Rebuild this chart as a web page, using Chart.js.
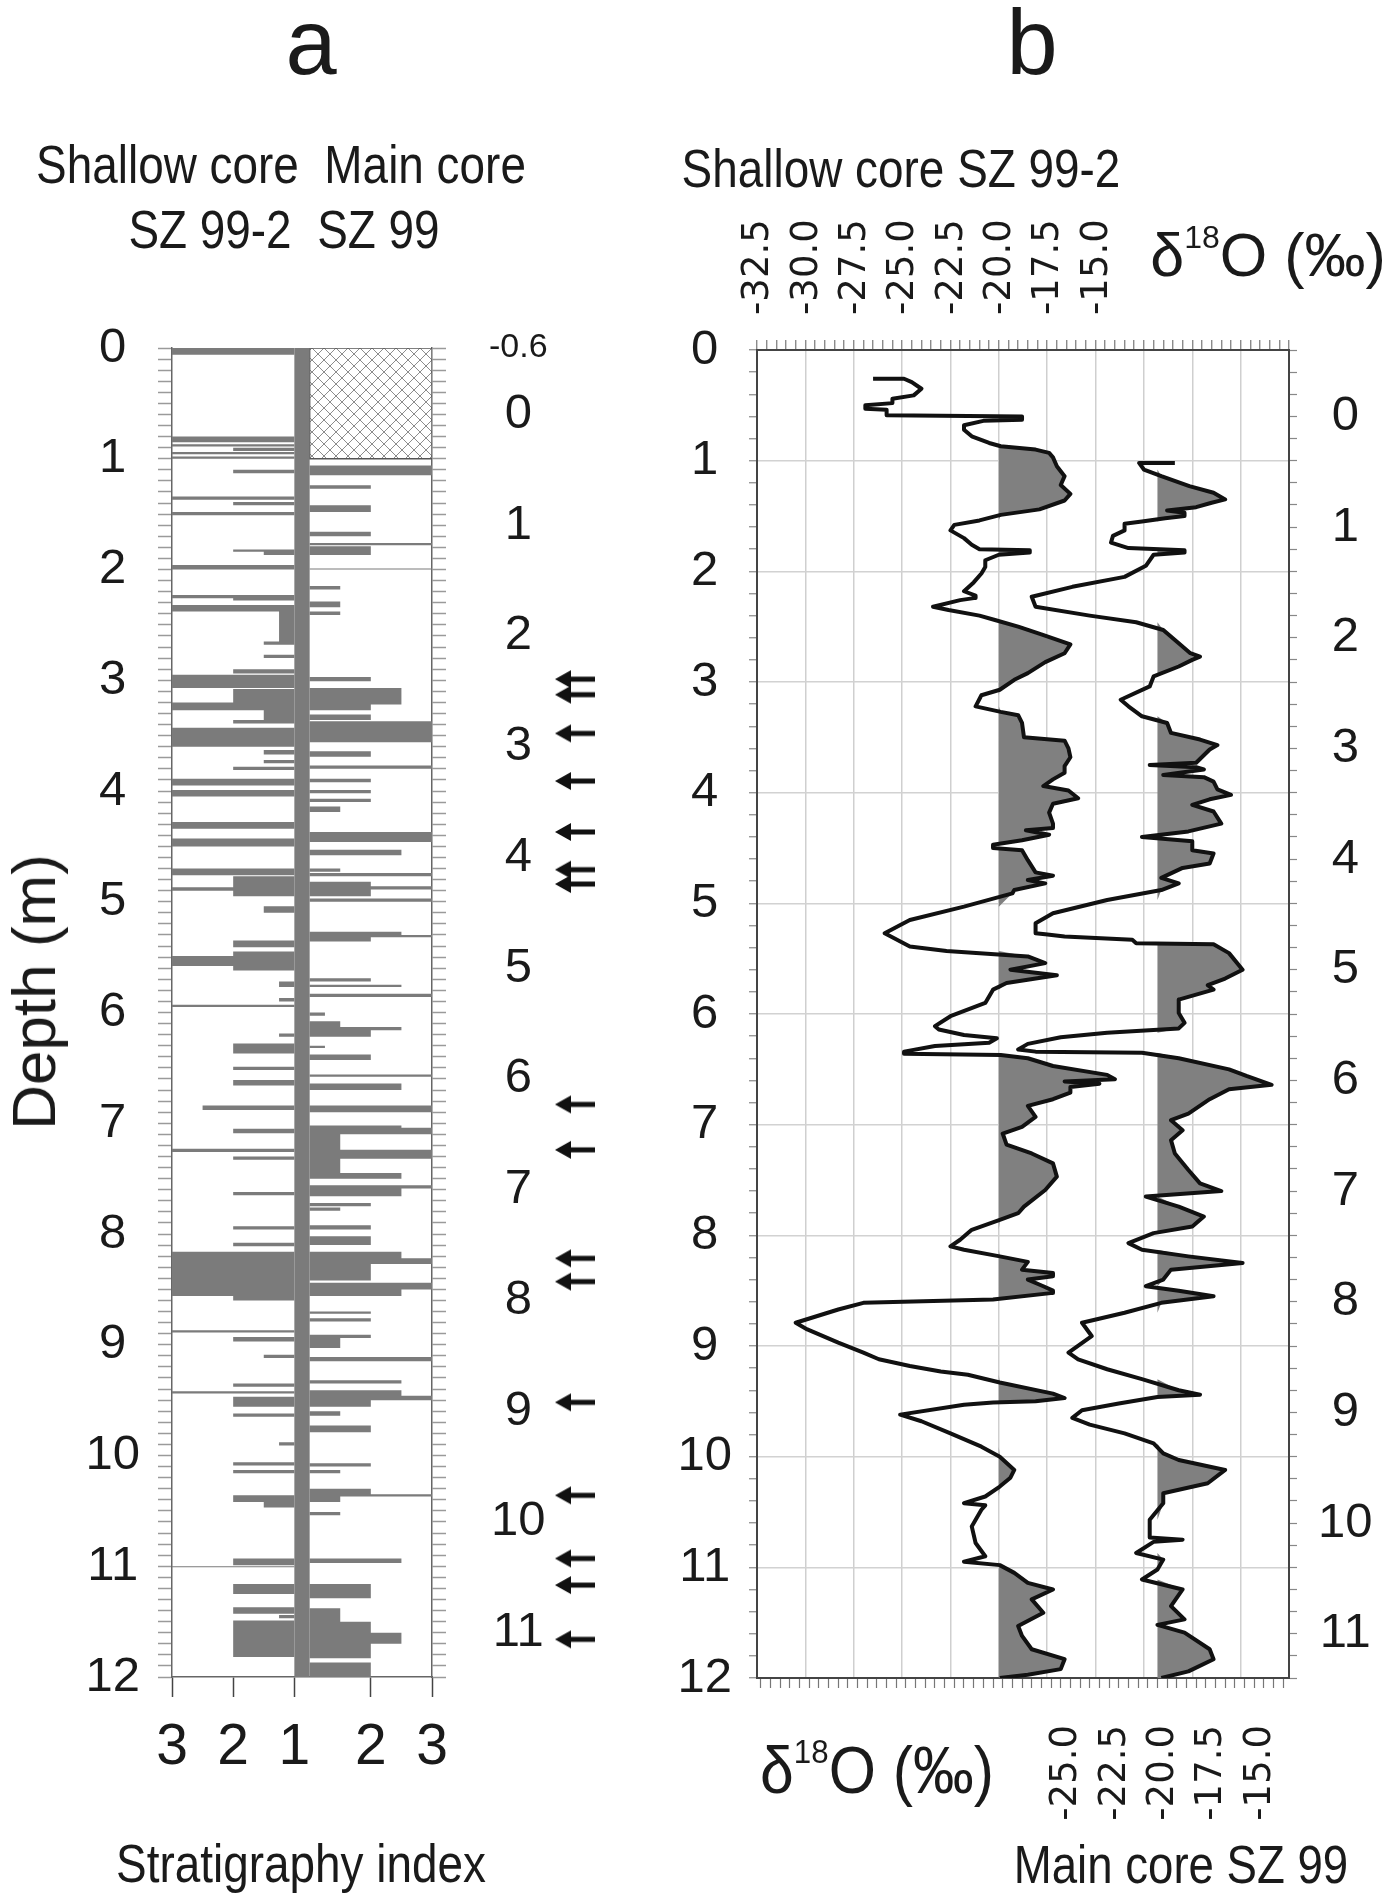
<!DOCTYPE html>
<html>
<head>
<meta charset="utf-8">
<script src="https://cdn.jsdelivr.net/npm/chart.js"></script>
<style>
  html, body { margin: 0; padding: 0; background: #fff; }
  #page { position: relative; width: 1400px; height: 1897px; overflow: hidden;
          font-family: "Liberation Sans", Arial, sans-serif; color: #1a1a1a; }
  #page canvas { position: absolute; left: 0; top: 0; }
  .lbl { position: absolute; white-space: nowrap; line-height: 1; transform-origin: 50% 50%; }
</style>
</head>
<body>
<div id="page">
  <canvas id="stratChart" width="1400" height="1897"></canvas>
  <canvas id="arrowChart" width="1400" height="1897"></canvas>
  <canvas id="isoChart" width="1400" height="1897"></canvas>

  <div class="lbl" style="left:311px;top:-4px;font-size:92px;transform:translateX(-50%)">a</div>
  <div class="lbl" style="left:1032px;top:-4px;font-size:92px;transform:translateX(-50%)">b</div>
  <div class="lbl" style="left:281px;top:137px;font-size:54px;transform:translateX(-50%) scaleX(0.85)">Shallow core&nbsp; Main core</div>
  <div class="lbl" style="left:284px;top:202px;font-size:54px;transform:translateX(-50%) scaleX(0.85)">SZ 99-2&nbsp; SZ 99</div>
  <div class="lbl" style="left:901px;top:141px;font-size:54px;transform:translateX(-50%) scaleX(0.85)">Shallow core SZ 99-2</div>
  <div class="lbl" style="left:1268px;top:225px;font-size:61px;transform:translateX(-50%)">δ<span style="font-size:32px;position:relative;top:-28px">18</span>O (‰)</div>
  <div class="lbl" style="left:877px;top:1737px;font-size:66px;transform:translateX(-50%) scaleX(0.92)">δ<span style="font-size:34px;position:relative;top:-30px">18</span>O (‰)</div>
  <div class="lbl" style="left:1181px;top:1838px;font-size:53px;transform:translateX(-50%) scaleX(0.86)">Main core SZ 99</div>
  <div class="lbl" style="left:301px;top:1836px;font-size:54px;transform:translateX(-50%) scaleX(0.85)">Stratigraphy index</div>
  <div class="lbl" style="left:34px;top:992px;font-size:62px;transform:translate(-50%,-50%) rotate(-90deg)">Depth (m)</div>
</div>

<script>
// ---- panel a: stratigraphy index layers [top, bottom, index] ----
// shallow core SZ 99-2, depth in m
const shallowLayers = [
  [0.00,0.06,3],[0.80,0.85,3],[0.87,0.89,3],[0.90,0.93,2],[0.94,0.96,3],[0.98,1.00,3],[1.10,1.13,2],
  [1.34,1.37,3],[1.39,1.42,2],[1.48,1.51,3],[1.82,1.84,2],[1.84,1.87,1.5],[1.96,2.00,3],[2.23,2.26,3],
  [2.26,2.28,2],[2.32,2.38,3],[2.38,2.65,1.25],[2.65,2.68,1.5],[2.77,2.80,1.5],[2.90,2.94,2],[2.95,3.07,3],
  [3.08,3.20,2],[3.20,3.27,3],[3.27,3.36,1.5],[3.36,3.39,2],[3.43,3.60,3],[3.63,3.67,1.5],[3.72,3.75,1.5],
  [3.78,3.81,2],[3.89,3.95,3],[3.99,4.05,3],[4.28,4.34,3],[4.43,4.50,3],[4.70,4.76,3],[4.77,4.87,2],
  [4.87,4.90,3],[4.90,4.95,2],[5.04,5.10,1.5],[5.35,5.41,2],[5.45,5.49,2],[5.49,5.58,3],[5.58,5.62,2],
  [5.72,5.77,1.25],[5.87,5.90,1.25],[5.93,5.95,3],[6.19,6.22,1.25],[6.28,6.37,2],[6.49,6.52,2],[6.61,6.66,2],
  [6.84,6.88,2.5],[7.05,7.09,2],[7.23,7.26,3],[7.30,7.33,2],[7.62,7.65,2],[7.93,7.96,2],[8.08,8.11,2],
  [8.16,8.56,3],[8.56,8.60,2],[8.87,8.89,3],[8.93,8.97,2],[9.09,9.12,1.5],[9.35,9.38,2],[9.42,9.44,3],
  [9.47,9.56,2],[9.62,9.65,2],[9.88,9.91,1.25],[10.06,10.09,2],[10.13,10.16,2],[10.36,10.42,2],
  [10.42,10.47,1.5],[10.93,10.99,2],[11.00,11.01,3],[11.16,11.25,2],[11.37,11.43,2],[11.44,11.47,1.25],
  [11.49,11.82,2]
];
// main core SZ 99, main-core depth in m
const mainLayers = [
  [0.46,0.55,3],[0.64,0.67,2],[0.82,0.88,2],[1.06,1.10,2],[1.16,1.18,3],[1.19,1.27,2],[1.39,1.40,3],
  [1.55,1.58,1.5],[1.69,1.74,1.5],[1.78,1.81,1.5],[2.37,2.41,2],[2.47,2.62,2.5],[2.62,2.67,2],[2.71,2.76,2],
  [2.77,2.96,3],[3.04,3.09,2],[3.17,3.20,3],[3.29,3.32,2],[3.39,3.42,2],[3.47,3.50,2],[3.54,3.59,1.5],
  [3.77,3.86,3],[3.93,3.98,2.5],[4.10,4.13,1.5],[4.14,4.17,3],[4.22,4.26,2],[4.26,4.29,3],[4.29,4.35,2],
  [4.37,4.40,3],[4.67,4.70,2.5],[4.70,4.72,3],[4.72,4.76,2],[5.09,5.12,2],[5.15,5.17,2.5],[5.23,5.26,3],
  [5.40,5.43,1.25],[5.48,5.53,1.5],[5.53,5.56,2.5],[5.56,5.62,2],[5.70,5.72,1.25],[5.78,5.83,2],[5.96,5.98,3],
  [6.04,6.10,2.5],[6.24,6.30,3],[6.42,6.44,2.5],[6.44,6.50,3],[6.50,6.64,1.5],[6.64,6.72,3],[6.72,6.85,1.5],
  [6.85,6.90,2.5],[6.96,6.99,3],[6.99,7.06,2.5],[7.12,7.15,2],[7.16,7.19,1.5],[7.32,7.36,2],[7.42,7.50,2],
  [7.56,7.62,2.5],[7.62,7.67,3],[7.67,7.82,2],[7.84,7.90,3],[7.90,7.96,2.5],[8.10,8.12,2],[8.16,8.19,2],
  [8.31,8.34,2],[8.34,8.43,1.5],[8.51,8.55,3],[8.72,8.75,2.5],[8.81,8.86,2.5],[8.86,8.90,3],[8.90,8.96,2],
  [9.00,9.04,1.5],[9.13,9.19,2],[9.47,9.50,2],[9.53,9.56,1.5],[9.70,9.75,2],[9.75,9.77,3],[9.77,9.82,1.5],
  [9.91,9.94,1.5],[10.33,10.37,2.5],[10.56,10.69,2],[10.78,10.90,1.5],[10.90,11.00,2],[11.00,11.10,2.5],
  [11.10,11.23,2],[11.27,11.40,2]
];
const mainNoCore = [-0.6, 0.4];          // main core interval without stratigraphy (hatched)
const baseStrip = [0, 12];               // index 1 column
const stratTickLabels = ['3', '2', '1', '2', '3'];
const stratTickIndex = [3, 2, 1, 2, 3];
const stratTickSide = [-1, -1, 0, 1, 1];
const depthTicks = [0,1,2,3,4,5,6,7,8,9,10,11,12];
const mainDepthTicksA = [-0.6,0,1,2,3,4,5,6,7,8,9,10,11];
const mainDepthTicksB = [0,1,2,3,4,5,6,7,8,9,10,11];
// arrows, depth on the shallow-core scale
const arrowDepths = [2.99,3.13,3.48,3.91,4.37,4.71,4.84,6.83,7.24,8.22,8.43,9.52,10.36,10.93,11.17,11.66];

// ---- panel b: delta 18O profiles ----
const shallowDepth = [
  0.26,0.26,0.29,0.35,0.41,0.44,0.48,0.50,0.53,0.54,0.59,0.60,0.63,0.64,0.68,0.72,0.78,0.84,0.87,0.90,
  0.93,0.97,1.05,1.14,1.22,1.30,1.36,1.44,1.49,1.54,1.58,1.63,1.70,1.76,1.80,1.81,1.83,1.85,1.90,1.96,
  2.02,2.10,2.18,2.22,2.24,2.26,2.32,2.35,2.40,2.44,2.50,2.57,2.66,2.74,2.82,2.92,2.98,
  3.07,3.12,3.22,3.27,3.30,3.37,3.50,3.53,3.60,3.68,3.76,3.82,3.88,3.94,3.98,4.05,4.10,4.18,4.28,4.32,
  4.34,4.38,4.43,4.47,4.50,4.52,4.61,4.72,4.75,4.79,4.82,4.88,4.91,5.03,5.15,5.27,5.39,5.43,5.48,5.54,
  5.60,5.65,5.72,5.78,5.90,6.02,6.11,
  6.14,6.19,6.22,6.26,6.29,6.34,6.36,6.37,6.40,6.47,6.55,6.59,6.61,6.63,6.66,6.71,6.77,6.83,6.93,7.02,
  7.08,7.18,7.26,7.35,7.47,7.59,7.74,7.80,7.86,7.95,8.04,8.10,8.13,8.19,8.24,8.31,8.34,8.37,8.40,8.46,
  8.50,8.52,8.58,8.61,8.67,8.79,8.85,8.97,9.06,9.12,9.18,9.23,9.26,
  9.33,9.43,9.47,9.50,9.51,9.53,9.62,9.68,9.79,9.91,10.00,10.12,10.19,10.27,10.36,10.42,10.44,10.48,
  10.63,10.78,10.90,10.95,10.98,11.05,11.14,11.20,11.29,11.41,11.53,11.62,11.74,11.83,11.92,11.97,12.00
];
const shallowD18O = [
  -26.5,-24.9,-24.5,-24.0,-24.4,-25.5,-25.5,-26.9,-26.9,-25.8,-25.8,-18.8,-18.8,-20.8,-21.8,-21.8,-21.4,-20.5,-19.9,-18.1,
  -17.4,-17.2,-17.0,-16.6,-16.8,-16.3,-16.6,-17.9,-19.9,-21.0,-22.3,-22.5,-21.8,-21.4,-21.0,-18.4,-18.4,-20.0,-20.7,-20.7,
  -20.9,-21.3,-21.8,-21.2,-21.2,-22.0,-23.4,-22.6,-21.0,-20.2,-19.0,-17.8,-16.3,-16.6,-17.6,-18.5,-19.2,
  -19.95,-20.9,-21.2,-19.9,-19.0,-18.8,-18.7,-16.6,-16.4,-16.3,-16.6,-16.6,-17.2,-17.7,-16.4,-15.9,-17.2,-17.4,-17.2,-17.2,
  -18.6,-17.4,-18.8,-20.3,-20.3,-18.8,-18.5,-18.1,-17.2,-18.5,-17.6,-19.2,-19.3,-21.8,-24.6,-25.9,-24.6,-22.7,-18.5,-17.6,
  -19.4,-17.0,-19.6,-20.3,-20.7,-22.5,-23.3,
  -23.1,-21.8,-20.1,-20.5,-23.3,-24.9,-24.9,-19.9,-18.5,-17.2,-14.4,-14.0,-16.6,-14.8,-16.3,-16.3,-17.2,-18.5,-18.1,-18.8,
  -19.8,-19.6,-18.3,-17.2,-17.0,-17.6,-18.7,-19.0,-19.95,-21.4,-22.0,-22.5,-21.8,-19.95,-18.5,-18.8,-17.2,-17.2,-18.5,-17.7,
  -17.2,-17.2,-20.3,-27.0,-28.3,-30.5,-29.9,-28.3,-27.0,-26.2,-24.6,-23.0,-21.6,
  -19.95,-17.2,-16.6,-18.1,-20.3,-21.8,-25.1,-24.0,-22.5,-20.9,-19.95,-19.2,-19.4,-19.95,-20.7,-21.8,-20.7,-20.9,
  -21.4,-21.2,-20.7,-21.8,-19.95,-19.2,-18.5,-17.2,-18.3,-17.7,-19.0,-18.8,-18.3,-16.6,-16.8,-18.5,-19.95
];
// main core, main-core depth in m
const mainDepth = [
  0.42,0.42,0.48,0.54,0.63,0.69,0.75,0.78,0.82,0.85,0.87,0.90,0.92,0.95,0.97,1.03,1.08,1.14,1.19,1.21,
  1.23,1.25,1.35,1.45,1.54,1.63,1.72,1.80,1.86,1.93,2.05,2.14,2.17,2.20,2.26,2.35,
  2.44,2.56,2.62,2.71,2.77,2.86,2.92,2.97,3.01,3.13,3.15,3.17,3.19,3.24,3.26,3.30,3.37,3.42,3.46,3.51,
  3.57,3.68,3.75,3.80,3.84,3.92,3.95,4.04,4.08,4.17,4.22,4.28,4.37,4.49,4.58,4.67,4.68,4.70,4.73,4.76,
  4.77,4.85,5.00,5.08,5.14,5.18,5.27,5.39,5.48,
  5.53,5.57,5.61,5.67,5.72,5.74,5.75,5.80,5.90,5.96,6.04,6.08,6.17,6.30,6.36,6.45,6.54,6.66,6.81,6.93,
  7.00,7.05,7.14,7.23,7.32,7.38,7.47,7.53,7.59,7.65,7.71,7.80,7.86,7.90,7.95,8.01,8.10,8.19,8.31,8.46,8.52,
  8.61,8.70,8.80,8.84,8.86,8.92,8.98,9.05,9.11,9.19,9.28,9.37,9.43,9.52,9.64,9.73,9.82,9.97,10.13,10.15,
  10.17,10.27,10.33,10.42,10.51,10.60,10.75,10.87,10.92,10.99,11.14,11.23,11.34,11.40
];
const mainD18O = [
  -19.1,-20.95,-20.7,-19.8,-18.35,-17.1,-16.5,-17.2,-18.0,-19.5,-18.6,-18.6,-19.6,-20.8,-21.7,-21.7,-22.3,-22.4,-21.5,-18.6,
  -18.6,-20.2,-20.6,-21.7,-24.4,-26.5,-26.3,-23.5,-21.1,-19.7,-18.9,-18.3,-17.8,-18.2,-18.9,-20.2,
  -20.4,-21.9,-21.5,-20.8,-19.5,-19.3,-17.8,-16.9,-17.3,-18.0,-20.4,-18.0,-17.6,-19.7,-17.6,-17.1,-16.9,-16.2,-17.3,-18.2,
  -17.1,-16.7,-18.4,-20.8,-18.2,-18.2,-17.1,-17.3,-18.7,-19.8,-18.9,-19.8,-22.6,-25.4,-26.3,-26.3,-25.8,-24.8,-21.3,-21.1,
  -17.1,-16.3,-15.6,-16.5,-17.4,-17.1,-18.9,-18.9,-18.6,
  -18.9,-22.6,-25.0,-26.7,-27.2,-26.3,-20.8,-18.9,-16.3,-15.4,-14.1,-16.3,-17.3,-18.4,-19.3,-18.7,-19.3,-19.1,-18.4,-17.8,
  -16.7,-20.6,-18.9,-17.6,-18.2,-20.2,-21.5,-20.8,-18.4,-15.6,-19.3,-19.7,-20.6,-18.9,-17.1,-19.8,-21.7,-23.9,-23.4,-24.6,-24.1,
  -22.6,-20.8,-18.9,-17.8,-20.0,-22.0,-23.9,-24.4,-23.5,-21.7,-20.2,-19.7,-18.9,-16.5,-17.4,-19.7,-19.7,-20.4,-20.4,-18.7,
  -20.2,-21.1,-19.7,-20.0,-20.8,-18.7,-19.3,-18.6,-20.0,-18.6,-17.3,-17.1,-18.4,-19.8
];
const shadeFrom = -20;                   // shading above -20 per mil
const topTicks = [-32.5,-30.0,-27.5,-25.0,-22.5,-20.0,-17.5,-15.0];
const bottomTicks = [-25.0,-22.5,-20.0,-17.5,-15.0];

// ---- helpers ----
const BAR_GREY = '#7b7b7b';
const SHADE_GREY = '#808080';
const STRIP = 0.25;
const near = (a, b) => Math.abs(a - b) < 1e-6;
const onList = (v, list) => list.some(t => near(t, v));
const whole = v => near(v, Math.round(v));
function stepTicks(min, max, step) {
  const out = [];
  const n = Math.round((max - min) / step);
  for (let i = 0; i <= n; i++) out.push({ value: Math.round((min + i * step) * 1000) / 1000 });
  return out;
}
function stratX(idx, side) {
  if (side < 0) return -(idx - 1);
  if (side > 0) return STRIP + (idx - 1);
  return 0;
}
function layerPolygon(layers, side) {
  const pts = [];
  const x0 = side < 0 ? 0 : STRIP;
  layers.forEach(([top, base, idx]) => {
    const x1 = stratX(idx, side);
    pts.push({x: x0, y: top}, {x: x1, y: top}, {x: x1, y: base}, {x: x0, y: base});
  });
  return pts;
}
function rectPolygon(x0, x1, y0, y1) {
  return [{x: x0, y: y0}, {x: x1, y: y0}, {x: x1, y: y1}, {x: x0, y: y1}, {x: x0, y: y0}];
}
function makeHatch() {
  const c = document.createElement('canvas');
  c.width = 12; c.height = 12;
  const g = c.getContext('2d');
  g.fillStyle = '#fff'; g.fillRect(0, 0, 12, 12);
  g.strokeStyle = '#8c8c8c'; g.lineWidth = 1;
  g.beginPath();
  g.moveTo(0, 0); g.lineTo(12, 12);
  g.moveTo(12, 0); g.lineTo(0, 12);
  g.stroke();
  return g.createPattern(c, 'repeat');
}
function makeArrow() {
  const c = document.createElement('canvas');
  c.width = 40; c.height = 20;
  const g = c.getContext('2d');
  g.fillStyle = '#111';
  g.beginPath(); g.moveTo(0, 10); g.lineTo(16, 1); g.lineTo(16, 19); g.closePath(); g.fill();
  g.fillRect(14, 7.5, 26, 5);
  return c;
}

Chart.defaults.font.family = '"Liberation Sans", Arial, sans-serif';
Chart.defaults.color = '#1a1a1a';

const common = {
  responsive: false, devicePixelRatio: 1, animation: false, events: [],
  plugins: { legend: { display: false }, tooltip: { enabled: false } }
};
const noLine = { borderColor: 'rgba(0,0,0,0)', borderWidth: 0, pointRadius: 0 };

// ---- panel a ----
new Chart(document.getElementById('stratChart'), {
  type: 'line',
  data: {
    datasets: [
      Object.assign({ data: rectPolygon(0, STRIP, baseStrip[0], baseStrip[1]), yAxisID: 'y',
        fill: 'shape', backgroundColor: BAR_GREY }, noLine),
      Object.assign({ data: layerPolygon(shallowLayers, -1), yAxisID: 'y',
        fill: 'shape', backgroundColor: BAR_GREY }, noLine),
      Object.assign({ data: layerPolygon(mainLayers, 1), yAxisID: 'yMain',
        fill: 'shape', backgroundColor: BAR_GREY }, noLine),
      { data: rectPolygon(STRIP, STRIP + 2, mainNoCore[0], mainNoCore[1]), yAxisID: 'yMain',
        fill: 'shape', backgroundColor: makeHatch(), borderColor: '#555', borderWidth: 1.5, pointRadius: 0 }
    ]
  },
  options: Object.assign({}, common, {
    layout: { padding: { top: 348, left: 0, right: 0, bottom: 0 }, autoPadding: false },
    scales: {
      x: {
        type: 'linear', position: 'bottom', min: -2, max: STRIP + 2,
        afterBuildTicks: s => { s.ticks = stratTickIndex.map((v, i) => ({ value: stratX(v, stratTickSide[i]) })); },
        afterFit: s => { s.height = 220; },
        grid: { drawOnChartArea: false, tickLength: 20, tickColor: '#444', tickWidth: 1.5 },
        border: { color: '#666', width: 1.5 },
        ticks: { autoSkip: false, maxRotation: 0, font: { size: 57 }, padding: 17,
                 callback: (v, i) => stratTickLabels[i] }
      },
      y: {
        type: 'linear', position: 'left', reverse: true, min: 0, max: 12,
        afterBuildTicks: s => { s.ticks = stepTicks(0, 12, 0.1); },
        afterFit: s => { s.width = 172; },
        grid: { drawOnChartArea: false, tickLength: 14, tickColor: '#9a9a9a', tickWidth: 1.5 },
        border: { color: '#666', width: 1.5 },
        ticks: { autoSkip: false, font: { size: 49 }, padding: 18, crossAlign: 'center',
                 callback: v => (whole(v) && onList(v, depthTicks)) ? String(Math.round(v)) : '' }
      },
      yMain: {
        type: 'linear', position: 'right', reverse: true, min: -0.6, max: 11.4,
        afterBuildTicks: s => { s.ticks = stepTicks(-0.6, 11.4, 0.1); },
        afterFit: s => { s.width = 968; },
        grid: { drawOnChartArea: false, tickLength: 14, tickColor: '#9a9a9a', tickWidth: 1.5 },
        border: { color: '#666', width: 1.5 },
        ticks: { autoSkip: false, padding: 43, crossAlign: 'center',
                 font: c => ({ size: (c.tick && near(c.tick.value, -0.6)) ? 34 : 49 }),
                 callback: v => onList(v, mainDepthTicksA) ? (near(v, -0.6) ? '-0.6' : String(Math.round(v))) : '' }
      }
    }
  })
});

// ---- arrows next to panel a ----
new Chart(document.getElementById('arrowChart'), {
  type: 'scatter',
  data: { datasets: [{ data: arrowDepths.map(d => ({ x: 0, y: d })), pointStyle: makeArrow(),
                       pointRadius: 10, backgroundColor: '#111', borderColor: '#111' }] },
  options: Object.assign({}, common, {
    layout: { padding: { left: 545, right: 795, top: 348, bottom: 220 }, autoPadding: false },
    scales: {
      x: { display: false, min: -1, max: 1 },
      y: { display: false, min: 0, max: 12, reverse: true }
    }
  })
});

// ---- panel b ----
const shallowPts = shallowDepth.map((d, i) => ({ x: shallowD18O[i], y: d }));
const mainPts = mainDepth.map((d, i) => ({ x: mainD18O[i], y: d }));
const shallowShade = shallowDepth.map((d, i) => ({ x: Math.max(shallowD18O[i], shadeFrom), y: d }));
const mainShade = mainDepth.map((d, i) => ({ x: Math.max(mainD18O[i], shadeFrom), y: d }));
const curveStyle = { borderColor: '#111', borderWidth: 4, pointRadius: 0, fill: false, borderJoinStyle: 'round', order: 1 };

new Chart(document.getElementById('isoChart'), {
  type: 'line',
  data: {
    datasets: [
      Object.assign({ label: 'Shallow core SZ 99-2', data: shallowPts, xAxisID: 'xTop', yAxisID: 'y' }, curveStyle),
      Object.assign({ label: 'Main core SZ 99', data: mainPts, xAxisID: 'xBot', yAxisID: 'yMain' }, curveStyle),
      Object.assign({ data: shallowShade, xAxisID: 'xTop', yAxisID: 'y', backgroundColor: SHADE_GREY,
                      fill: { target: { value: shadeFrom } }, order: 2 }, noLine),
      Object.assign({ data: mainShade, xAxisID: 'xBot', yAxisID: 'yMain', backgroundColor: SHADE_GREY,
                      fill: { target: { value: shadeFrom } }, order: 2 }, noLine)
    ]
  },
  options: Object.assign({}, common, {
    indexAxis: 'y',
    layout: { padding: 0, autoPadding: false },
    scales: {
      xTop: {
        type: 'linear', position: 'top', min: -32.5, max: -5,
        afterBuildTicks: s => { s.ticks = stepTicks(-32.5, -5, 0.5); },
        afterFit: s => { s.height = 350; },
        grid: { color: c => (c.tick && whole(c.tick.value / 2.5)) ? '#cfcfcf' : 'rgba(0,0,0,0)',
                lineWidth: 1.5, tickLength: 10, tickColor: '#777', tickWidth: 1.2 },
        border: { color: '#444', width: 2 },
        ticks: { autoSkip: false, minRotation: 90, maxRotation: 90, padding: 25, labelOffset: 46,
                 font: { family: '"DejaVu Sans", sans-serif', size: 37 },
                 callback: v => onList(v, topTicks) ? v.toFixed(1) : '' }
      },
      xBot: {
        type: 'linear', position: 'bottom', min: -40.7, max: -13.2,
        afterBuildTicks: s => { s.ticks = stepTicks(-40.5, -13.5, 0.5); },
        afterFit: s => { s.height = 219; },
        grid: { drawOnChartArea: false, tickLength: 10, tickColor: '#777', tickWidth: 1.2 },
        border: { color: '#444', width: 2 },
        ticks: { autoSkip: false, minRotation: 90, maxRotation: 90, padding: 37, labelOffset: 6,
                 font: { family: '"DejaVu Sans", sans-serif', size: 37 },
                 callback: v => onList(v, bottomTicks) ? v.toFixed(1) : '' }
      },
      y: {
        type: 'linear', position: 'left', reverse: true, min: 0, max: 12,
        afterBuildTicks: s => { s.ticks = stepTicks(0, 12, 0.2); },
        afterFit: s => { s.width = 757; },
        grid: { color: c => (c.tick && whole(c.tick.value)) ? '#d2d2d2' : 'rgba(0,0,0,0)',
                lineWidth: 1.5, tickLength: 8, tickColor: '#888', tickWidth: 1.2 },
        border: { color: '#444', width: 2 },
        ticks: { autoSkip: false, font: { size: 49 }, padding: 17, crossAlign: 'center',
                 callback: v => (whole(v) && onList(v, depthTicks)) ? String(Math.round(v)) : '' }
      },
      yMain: {
        type: 'linear', position: 'right', reverse: true, min: -0.6, max: 11.4,
        afterBuildTicks: s => { s.ticks = stepTicks(-0.6, 11.4, 0.2); },
        afterFit: s => { s.width = 111; },
        grid: { drawOnChartArea: false, tickLength: 8, tickColor: '#888', tickWidth: 1.2 },
        border: { color: '#444', width: 2 },
        ticks: { autoSkip: false, font: { size: 49 }, padding: 21, crossAlign: 'center',
                 callback: v => (whole(v) && onList(v, mainDepthTicksB)) ? String(Math.round(v)) : '' }
      }
    }
  })
});
</script>
</body>
</html>
